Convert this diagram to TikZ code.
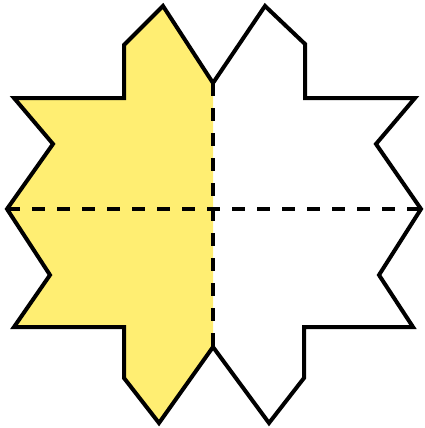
\documentclass[tikz,border=0pt]{standalone}
\usepackage{tikz}
\usetikzlibrary{calc}
\definecolor{halfyellow}{HTML}{FFEE72}

\begin{document}
\begin{tikzpicture}[
   x=1pt,y=-1pt,
   rim/.style={draw=black,line width=4pt,line join=miter},
   fold/.style={draw=black,line width=4pt,dash pattern=on 13pt off 12pt},
]
\useasboundingbox (0,0) rectangle (425,428);
% corner points of the outline
\coordinate (ctop) at (213,83);
\coordinate (cbot) at (213,347);
\coordinate (wpt) at (7,209);
\coordinate (ept) at (421,209);

\fill[halfyellow] (ctop) -- (163,6) -- (124,45) -- (124,98) -- (14,98) -- (53,144)
   -- (wpt) -- (50,275) -- (14,327) -- (124,327) -- (124,378) -- (159,423)
   -- (cbot) -- cycle;

\draw[fold] (ctop) -- (cbot);
\draw[fold] (wpt) -- (ept);

\draw[rim] (ctop) -- (163,6) -- (124,45) -- (124,98) -- (14,98) -- (53,144)
   -- (wpt) -- (50,275) -- (14,327) -- (124,327) -- (124,378) -- (159,423)
   -- (cbot) -- (269,423) -- (304,378) -- (304,327) -- (413,327) -- (379,275)
   -- (ept) -- (376,144) -- (415,98) -- (305,98) -- (305,44) -- (265,6) -- cycle;
\end{tikzpicture}
\end{document}
